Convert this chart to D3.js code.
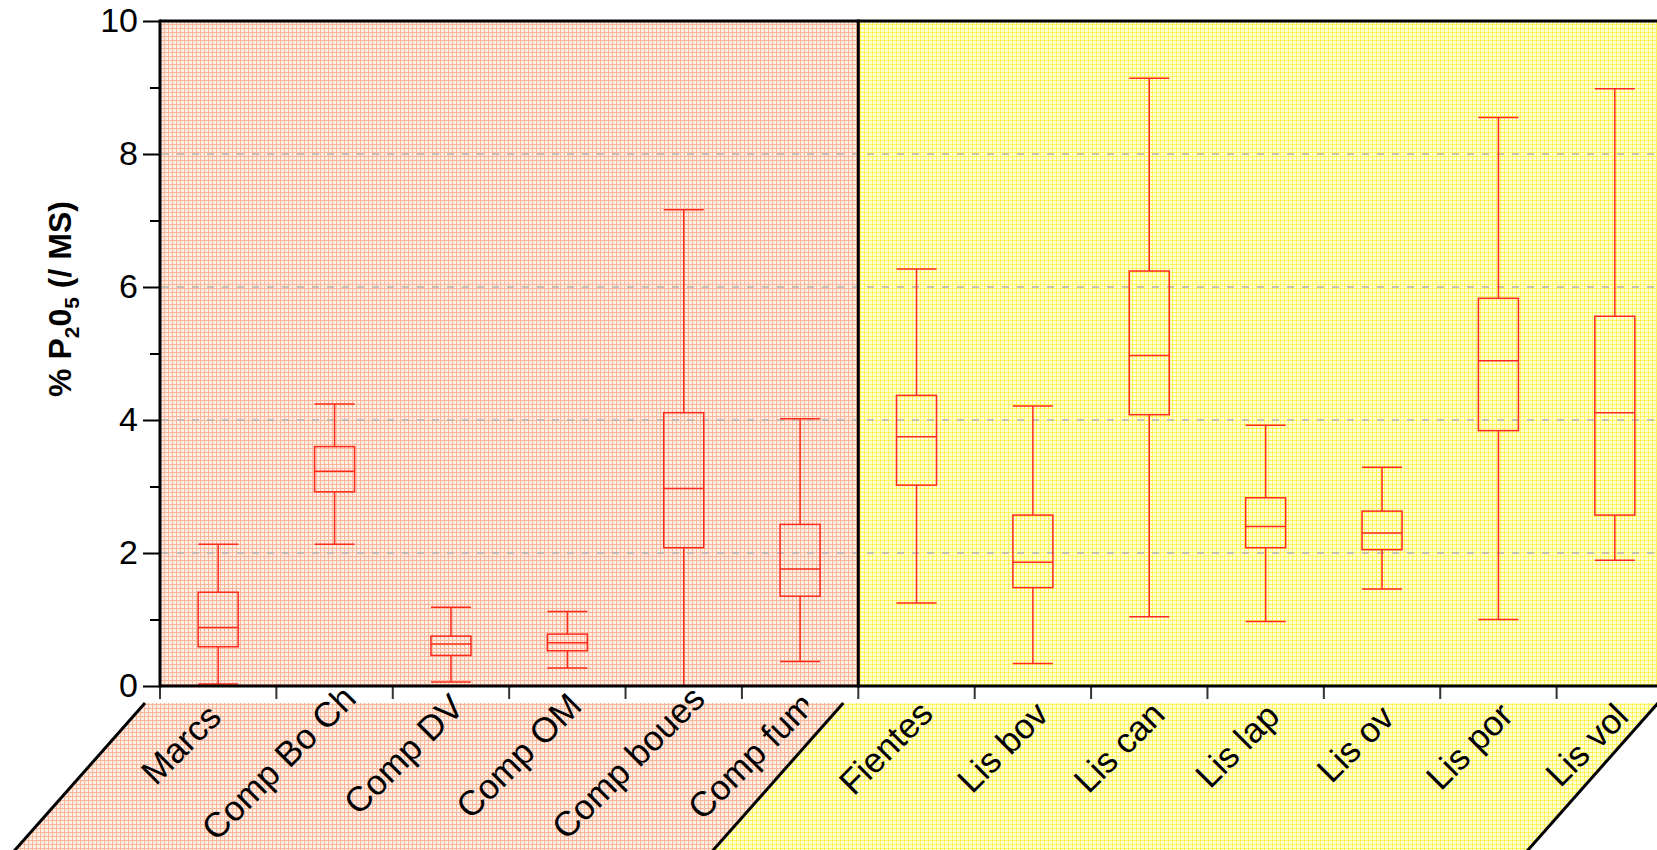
<!DOCTYPE html>
<html><head><meta charset="utf-8">
<script src="https://cdn.jsdelivr.net/npm/d3@7"></script>
<style>body{margin:0;background:#fff;overflow:hidden;} svg{display:block;font-family:"Liberation Sans",Arial,sans-serif;}</style>
</head><body><svg id="c" width="1657" height="850"></svg>
<script>
// ---- data ----
const categories = ["Marcs","Comp Bo Ch","Comp DV","Comp OM","Comp boues","Comp fum","Fientes","Lis bov","Lis can","Lis lap","Lis ov","Lis por","Lis vol"];
const groupOf = ["A","A","A","A","A","A","B","B","B","B","B","B","B"];
const whiskerLow  = [0.03, 2.13, 0.06, 0.27, 0.00, 0.37, 1.25, 0.34, 1.04, 0.97, 1.46, 1.00, 1.89];
const q1          = [0.59, 2.92, 0.46, 0.53, 2.08, 1.35, 3.02, 1.48, 4.08, 2.08, 2.05, 3.84, 2.57];
const median      = [0.88, 3.23, 0.63, 0.65, 2.97, 1.76, 3.75, 1.86, 4.97, 2.40, 2.30, 4.89, 4.11];
const q3          = [1.41, 3.60, 0.75, 0.78, 4.11, 2.43, 4.37, 2.57, 6.24, 2.83, 2.63, 5.83, 5.56];
const whiskerHigh = [2.13, 4.24, 1.185,1.12, 7.16, 4.02, 6.27, 4.21, 9.14, 3.92, 3.29, 8.55, 8.98];
const yMajorTicks = [0,2,4,6,8,10];
const yMinorTicks = [1,3,5,7,9];
const gridValues = [2,4,6,8];
const yTitleParts = [["% P",false],["2",true],["0",false],["5",true],[" (/ MS)",false]];

// ---- layout ----
const svg = d3.select("#c");
const x = d3.scaleBand().domain(categories).range([160, 1673]).padding(0);
const y = d3.scaleLinear().domain([0,10]).range([686, 21]);
const bw = x.bandwidth();
const boxW = 40;
const x0 = x.range()[0], xEnd = x.range()[1];
const xDiv = x(categories[groupOf.indexOf("B")]);
const yTop = y(10), yBase = y(0);

// patterns
const defs = svg.append("defs");
function makePattern(id, base, line){
  const p = defs.append("pattern").attr("id",id).attr("width",4).attr("height",4).attr("patternUnits","userSpaceOnUse");
  p.append("rect").attr("width",4).attr("height",4).attr("fill",base);
  p.append("rect").attr("width",4).attr("height",1).attr("fill",line);
  p.append("rect").attr("width",1).attr("height",4).attr("fill",line);
}
makePattern("pinkPat", "#fdeee6", "#f9b698");
makePattern("yelPat", "#ffffdc", "#fff35a");

// plot backgrounds
svg.append("rect").attr("x",x0).attr("y",yTop).attr("width",xDiv-x0).attr("height",yBase-yTop).attr("fill","url(#pinkPat)");
svg.append("rect").attr("x",xDiv).attr("y",yTop).attr("width",xEnd-xDiv).attr("height",yBase-yTop).attr("fill","url(#yelPat)");

// label parallelograms
const pTop = 703, pBot = 900, slope = 130/147, pOff = -15;
function para(a, b, top){
  const sx = (pBot - pTop) * slope, ux = (pTop - top) * slope;
  return [[a+pOff+ux,top],[b+pOff+ux,top],[b+pOff-sx,pBot],[a+pOff-sx,pBot]];
}
const paraA = para(x0, xDiv, pTop), paraB = para(xDiv, xEnd, pTop);
const clipA = para(x0, xDiv, 640), clipB = para(xDiv, xEnd, 640);
[["A",paraA,clipA,"url(#pinkPat)"],["B",paraB,clipB,"url(#yelPat)"]].forEach(([g,pts,cpts,fill])=>{
  svg.append("polygon").attr("points",pts.map(p=>p.join(",")).join(" ")).attr("fill",fill);
  defs.append("clipPath").attr("id","clip"+g).append("polygon").attr("points",cpts.map(p=>p.join(",")).join(" "));
});
// label slot limit for the first group (last label is truncated in the original)
defs.append("clipPath").attr("id","slotA").append("rect")
  .attr("x",-500).attr("y",600).attr("width",xDiv-50+500).attr("height",400);
// diagonal edges
[[paraA[0],paraA[3]],[paraA[1],paraA[2]],[paraB[1],paraB[2]]].forEach(([p,q])=>{
  svg.append("line").attr("x1",p[0]).attr("y1",p[1]).attr("x2",q[0]).attr("y2",q[1]).attr("stroke","#000").attr("stroke-width",3);
});

// gridlines
svg.append("g").selectAll("line").data(gridValues).join("line")
  .attr("x1",x0+2).attr("x2",xEnd).attr("y1",d=>y(d)).attr("y2",d=>y(d))
  .attr("stroke","#b4b4b4").attr("stroke-width",1.5).attr("stroke-dasharray","7,8");

// boxes
const red = "#ff2a1a";
const boxes = svg.append("g").selectAll("g").data(categories).join("g")
  .attr("stroke",red).attr("stroke-width",1.5).attr("fill","none");
boxes.append("line").attr("x1",d=>x(d)+bw/2).attr("x2",d=>x(d)+bw/2)
  .attr("y1",(d,i)=>y(whiskerLow[i])).attr("y2",(d,i)=>y(q1[i]));
boxes.append("line").attr("x1",d=>x(d)+bw/2).attr("x2",d=>x(d)+bw/2)
  .attr("y1",(d,i)=>y(q3[i])).attr("y2",(d,i)=>y(whiskerHigh[i]));
boxes.append("line").attr("x1",d=>x(d)+bw/2-boxW/2).attr("x2",d=>x(d)+bw/2+boxW/2)
  .attr("y1",(d,i)=>y(whiskerLow[i])).attr("y2",(d,i)=>y(whiskerLow[i]));
boxes.append("line").attr("x1",d=>x(d)+bw/2-boxW/2).attr("x2",d=>x(d)+bw/2+boxW/2)
  .attr("y1",(d,i)=>y(whiskerHigh[i])).attr("y2",(d,i)=>y(whiskerHigh[i]));
boxes.append("rect").attr("x",d=>x(d)+bw/2-boxW/2).attr("width",boxW)
  .attr("y",(d,i)=>y(q3[i])).attr("height",(d,i)=>y(q1[i])-y(q3[i]));
boxes.append("line").attr("x1",d=>x(d)+bw/2-boxW/2).attr("x2",d=>x(d)+bw/2+boxW/2)
  .attr("y1",(d,i)=>y(median[i])).attr("y2",(d,i)=>y(median[i]));

// y axis (major + minor)
const yAx = svg.append("g").attr("transform",`translate(${x0},0)`)
  .call(d3.axisLeft(y).tickValues(yMajorTicks).tickSize(17).tickPadding(5).tickFormat(d3.format("d")));
yAx.select(".domain").remove();
yAx.selectAll(".tick line").attr("stroke","#000").attr("stroke-width",2);
yAx.selectAll(".tick text").attr("font-size",34).attr("fill","#000").attr("font-family","Liberation Sans, Arial, sans-serif");
const yMin = svg.append("g").attr("transform",`translate(${x0},0)`)
  .call(d3.axisLeft(y).tickValues(yMinorTicks).tickSize(10).tickFormat(""));
yMin.select(".domain").remove();
yMin.selectAll(".tick line").attr("stroke","#000").attr("stroke-width",2);

// x tick marks at band boundaries
const bounds = categories.map(c=>x(c)).concat([xEnd]);
svg.append("g").selectAll("line").data(bounds).join("line")
  .attr("x1",d=>d).attr("x2",d=>d).attr("y1",yBase).attr("y2",yBase+13)
  .attr("stroke","#333").attr("stroke-width",2);

// frame
const frame = svg.append("g").attr("stroke","#000").attr("stroke-width",3);
frame.append("line").attr("x1",x0).attr("x2",xEnd).attr("y1",yTop).attr("y2",yTop);
frame.append("line").attr("x1",x0).attr("x2",xEnd).attr("y1",yBase).attr("y2",yBase);
frame.append("line").attr("x1",x0).attr("x2",x0).attr("y1",yTop-1.5).attr("y2",yBase+1.5);
frame.append("line").attr("x1",xDiv).attr("x2",xDiv).attr("y1",yTop-1.5).attr("y2",yBase+1.5);

// x labels
const labOff = {A:-12, B:-2};
categories.forEach((c,i)=>{
  const g = groupOf[i];
  let holder = svg.append("g").attr("clip-path",`url(#clip${g})`);
  if(g==="A") holder = holder.append("g").attr("clip-path","url(#slotA)");
  const t = holder.append("text").attr("font-size",35).attr("fill","#000").attr("text-anchor","end")
    .attr("transform",`translate(${x(c)+bw/2+labOff[g]},736) rotate(-45)`).text(c);
  t.attr("x", 0.25*t.node().getComputedTextLength());
});

// y title
const yt = svg.append("text").attr("transform","translate(71,299) rotate(-90)")
  .attr("text-anchor","middle").attr("font-weight","bold").attr("font-size",32).attr("fill","#000");
let shifted = false;
yTitleParts.forEach(([s,sub])=>{
  const ts = yt.append("tspan").text(s);
  if(sub){ ts.attr("font-size",21).attr("dy", shifted?0:8); shifted = true; }
  else { if(shifted){ ts.attr("dy",-8); shifted=false; } }
});
</script></body></html>
